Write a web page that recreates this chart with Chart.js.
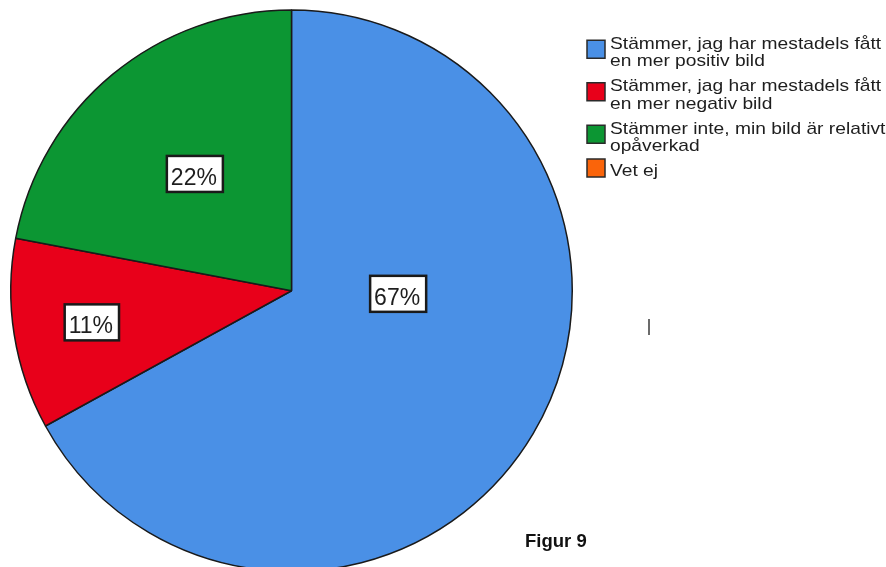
<!DOCTYPE html>
<html>
<head>
<meta charset="utf-8">
<script src="https://cdn.jsdelivr.net/npm/chart.js@4.4.0/dist/chart.umd.min.js"></script>
<style>
    html, body{margin:0; padding:0; background:#fff; overflow:hidden;}
    #wrap{width:886px; height:567px; overflow:hidden;}
</style>
</head>
<body>
<div id="wrap"><canvas id="myChart" width="886" height="600"></canvas></div>

<script>
    var categories = [
        ['Stämmer, jag har mestadels fått', 'en mer positiv bild'],
        ['Stämmer, jag har mestadels fått', 'en mer negativ bild'],
        ['Stämmer inte, min bild är relativt', 'opåverkad'],
        ['Vet ej']
    ];
    var percentages = [67, 11, 22, 0];
    var colors = ['#4a90e6', '#e8001a', '#0c9633', '#fa640a'];
    var figureTitle = 'Figur 9';

    // where the % box sits inside each slice (share of slice angle / of radius)
    var labelAngle = [0.38, 0.5, 0.5];
    var labelRadius = [0.38, 0.72, 0.54];

    var FONT = '"Liberation Sans", Arial, Helvetica, sans-serif';

    var sliceLabels = {
        id: 'sliceLabels',
        afterDatasetsDraw: function(chart){
            var ctx = chart.ctx;
            var arcs = chart.getDatasetMeta(0).data;
            ctx.save();
            ctx.font = '23px ' + FONT;
            ctx.textAlign = 'center';
            ctx.textBaseline = 'alphabetic';
            arcs.forEach(function(arc, i){
                var v = percentages[i];
                if(!v) return;
                var p = arc.getProps(['x', 'y', 'startAngle', 'endAngle', 'outerRadius'], true);
                var a = p.startAngle + (p.endAngle - p.startAngle) * labelAngle[i];
                var r = p.outerRadius * labelRadius[i];
                var cx = p.x + Math.cos(a) * r;
                var cy = p.y + Math.sin(a) * r;
                var text = v + '%';
                var bw = ctx.measureText(text).width + 10;
                var bh = 36;
                ctx.fillStyle = '#fff';
                ctx.fillRect(cx - bw / 2, cy - bh / 2, bw, bh);
                ctx.lineWidth = 2.5;
                ctx.strokeStyle = '#1a1a1a';
                ctx.strokeRect(cx - bw / 2, cy - bh / 2, bw, bh);
                ctx.fillStyle = '#1e1e1e';
                ctx.fillText(text, cx - 1, cy + 11);
            });
            ctx.restore();
        }
    };

    var sideLegend = {
        id: 'sideLegend',
        afterDraw: function(chart){
            var ctx = chart.ctx;
            var boxX = 587, boxSize = 18, textX = 610;
            var lineH = 17.5, gap = 25;
            var y = 48.5;
            ctx.save();
            ctx.font = '17px ' + FONT;
            ctx.textBaseline = 'alphabetic';
            categories.forEach(function(lines, i){
                var last = y + (lines.length - 1) * lineH;
                var mid = (y - 12 + last) / 2 - 2;
                ctx.fillStyle = colors[i];
                ctx.fillRect(boxX, mid - boxSize / 2, boxSize, boxSize);
                ctx.lineWidth = 1.5;
                ctx.strokeStyle = '#2a2a2a';
                ctx.strokeRect(boxX, mid - boxSize / 2, boxSize, boxSize);
                ctx.fillStyle = '#1e1e1e';
                lines.forEach(function(t, k){
                    ctx.save();
                    ctx.translate(textX, y + k * lineH);
                    ctx.scale(1.13, 1);
                    ctx.fillText(t, 0, 0);
                    ctx.restore();
                });
                y = last + gap;
            });

            // stray tick mark right of the pie
            ctx.strokeStyle = '#6b6b6b';
            ctx.lineWidth = 2;
            ctx.beginPath();
            ctx.moveTo(649, 319);
            ctx.lineTo(649, 335);
            ctx.stroke();

            ctx.fillStyle = '#111';
            ctx.font = 'bold 18.5px ' + FONT;
            ctx.fillText(figureTitle, 525, 547);
            ctx.restore();
        }
    };

    new Chart(document.getElementById('myChart').getContext('2d'), {
        type: 'pie',
        data: {
            labels: categories,
            datasets: [{
                data: percentages,
                backgroundColor: colors,
                borderColor: '#1a1a1a',
                borderWidth: 1.5
            }]
        },
        options: {
            responsive: false,
            devicePixelRatio: 1,
            animation: false,
            events: [],
            layout: {padding: {left: 9.25, top: 9.25, right: 312.25, bottom: 27.75}},
            plugins: {
                legend: {display: false},
                tooltip: {enabled: false}
            }
        },
        plugins: [sliceLabels, sideLegend]
    });
</script>
</body>
</html>
